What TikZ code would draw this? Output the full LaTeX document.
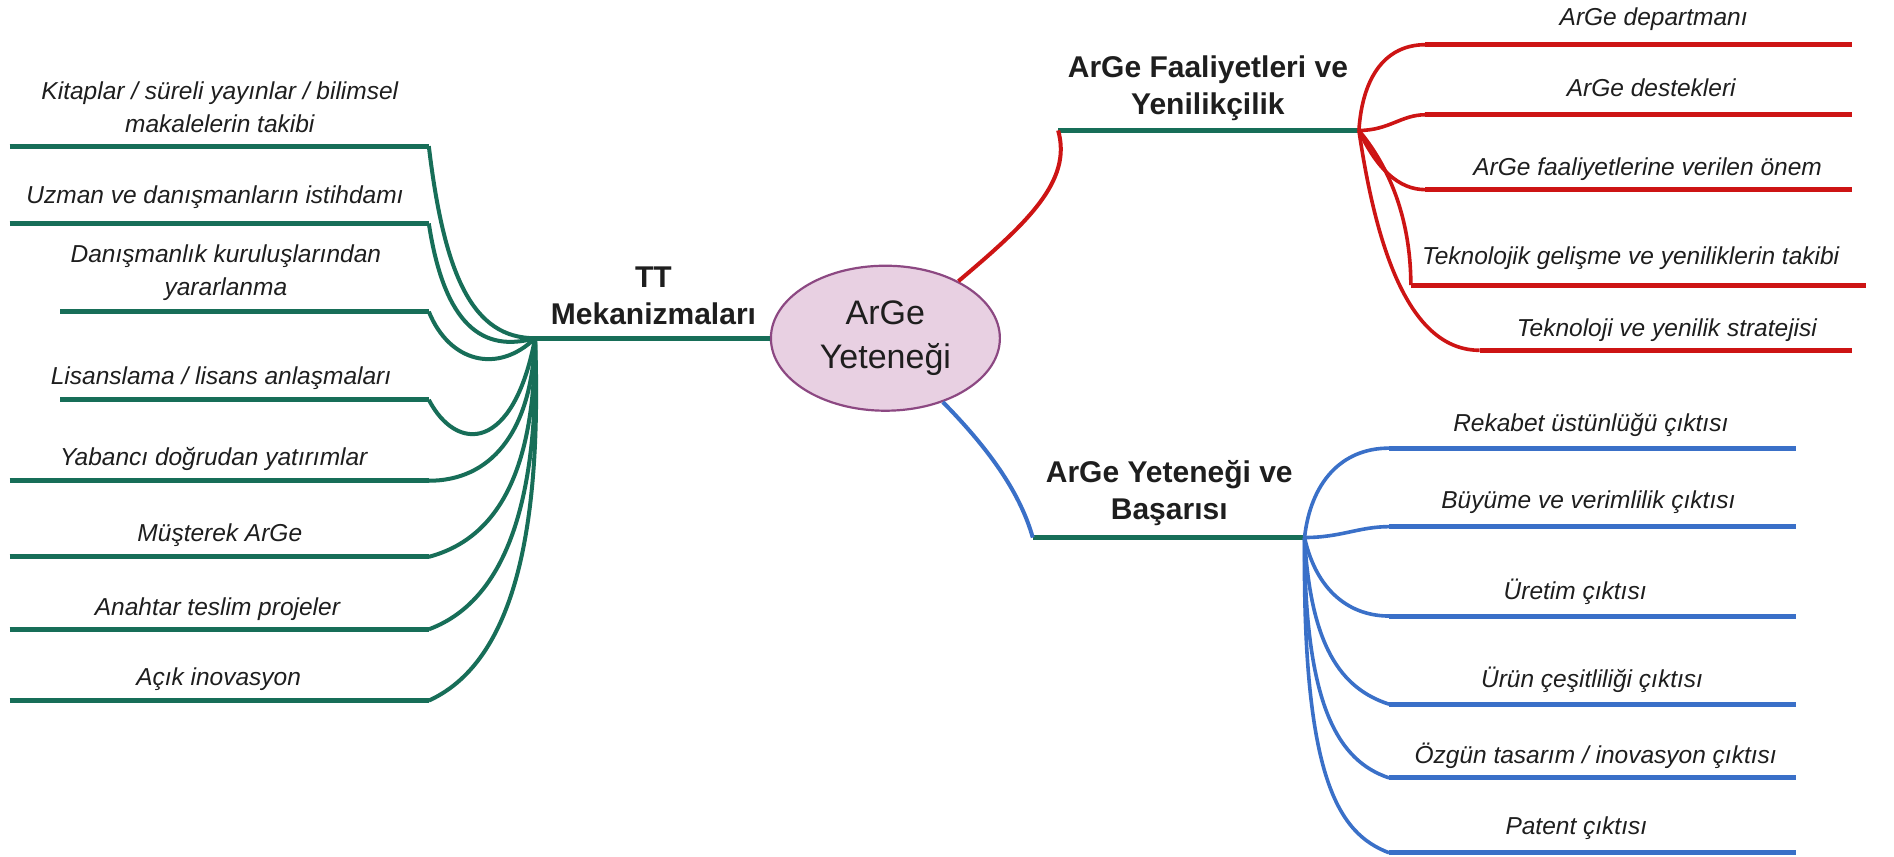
\documentclass[tikz,border=0pt]{standalone}
\usepackage{fontspec}
\setmainfont{Liberation Sans}
\usetikzlibrary{shapes.geometric}
\definecolor{tealc}{RGB}{23,110,88}
\definecolor{redc}{RGB}{205,20,20}
\definecolor{bluec}{RGB}{58,112,200}
\definecolor{ellfill}{RGB}{232,208,226}
\definecolor{elldraw}{RGB}{140,72,130}
\definecolor{txt}{RGB}{30,30,30}
\tikzset{
  leaf/.style={font=\fontsize{24.5}{33}\selectfont\itshape, text=txt, align=center, inner sep=0pt},
  title/.style={font=\fontsize{30}{37}\selectfont\bfseries, text=txt, align=center, inner sep=0pt},
  tline/.style={draw=tealc, line width=5pt},
  gline/.style={draw=tealc, line width=5pt},
  gcurve/.style={draw=tealc, line width=4pt},
  rline/.style={draw=redc, line width=5pt},
  rcurve/.style={draw=redc, line width=3.6pt},
  bline/.style={draw=bluec, line width=5pt},
  bcurve/.style={draw=bluec, line width=3.6pt},
}
\begin{document}
\begin{tikzpicture}[x=1.208pt, y=-1.208pt]
\useasboundingbox (0,0) rectangle (1568,709);
\fill[white] (0,0) rectangle (1568,709);

% central ellipse
\node[ellipse, draw=elldraw, line width=2.2pt, fill=ellfill, minimum width=229pt, minimum height=145pt,
  font=\fontsize{34}{44}\selectfont, text=txt, align=center, inner sep=0pt] (center) at (733,280) {ArGe\\Yeteneği};

% ---------- left branch ----------
\coordinate (hubL) at (443,280);
\draw[tline] (hubL) -- (center.west);
\node[title] (tt) at (541,245) {TT\\Mekanizmaları};

\coordinate (l1a) at (8,121);   \coordinate (l1b) at (355,121);
\coordinate (l2a) at (8,185);   \coordinate (l2b) at (355,185);
\coordinate (l3a) at (50,258);  \coordinate (l3b) at (355,258);
\coordinate (l4a) at (50,331);  \coordinate (l4b) at (355,331);
\coordinate (l5a) at (8,398);   \coordinate (l5b) at (355,398);
\coordinate (l6a) at (8,461);   \coordinate (l6b) at (355,461);
\coordinate (l7a) at (8,521);   \coordinate (l7b) at (355,521);
\coordinate (l8a) at (8,580);   \coordinate (l8b) at (355,580);
\foreach \i in {1,...,8} {\draw[gline] (l\i a) -- (l\i b);}

\draw[gcurve] (l1b) .. controls (368,230) and (392,280) .. (hubL);
\draw[gcurve] (l2b) .. controls (368,270) and (400,292) .. (hubL);
\draw[gcurve] (l3b) .. controls (372,300) and (412,310) .. (hubL);
\draw[gcurve] (l4b) .. controls (378,375) and (425,375) .. (hubL);
\draw[gcurve] (l5b) .. controls (405,398) and (440,360) .. (hubL);
\draw[gcurve] (l6b) .. controls (415,445) and (443,385) .. (hubL);
\draw[gcurve] (l7b) .. controls (425,495) and (446,400) .. (hubL);
\draw[gcurve] (l8b) .. controls (432,545) and (448,420) .. (hubL);

\node[leaf] (t1) at (182,88.5) {Kitaplar / süreli yayınlar / bilimsel\\makalelerin takibi};
\node[leaf] (t2) at (178,163) {Uzman ve danışmanların istihdamı};
\node[leaf] (t3) at (187,225.5) {Danışmanlık kuruluşlarından\\yararlanma};
\node[leaf] (t4) at (183,313) {Lisanslama / lisans anlaşmaları};
\node[leaf] (t5) at (177,380) {Yabancı doğrudan yatırımlar};
\node[leaf] (t6) at (182,443) {Müşterek ArGe};
\node[leaf] (t7) at (180,504) {Anahtar teslim projeler};
\node[leaf] (t8) at (181,562) {Açık inovasyon};

% ---------- top-right branch ----------
\coordinate (rA) at (876,108);
\coordinate (hubR) at (1125,108);
\draw[tline] (rA) -- (hubR);
\draw[redc, line width=4pt] (center.38) .. controls (850,185) and (888,150) .. (rA);
\node[title] (fa) at (1000,73) {ArGe Faaliyetleri ve\\Yenilikçilik};

\coordinate (r1a) at (1180,37);  \coordinate (r1b) at (1533,37);
\coordinate (r2a) at (1180,95);  \coordinate (r2b) at (1533,95);
\coordinate (r3a) at (1180,157); \coordinate (r3b) at (1533,157);
\coordinate (r4a) at (1168,236); \coordinate (r4b) at (1545,236);
\coordinate (r5a) at (1225,290); \coordinate (r5b) at (1533,290);
\foreach \i in {1,...,5} {\draw[rline] (r\i a) -- (r\i b);}

\draw[rcurve] (hubR) .. controls (1128,62) and (1148,37) .. (r1a);
\draw[rcurve] (hubR) .. controls (1150,108) and (1160,95) .. (r2a);
\draw[rcurve] (hubR) .. controls (1140,140) and (1158,157) .. (r3a);
\draw[rcurve] (hubR) .. controls (1160,150) and (1168,200) .. (r4a);
\draw[rcurve] (hubR) .. controls (1140,210) and (1168,290) .. (r5a);

\node[leaf] (u1) at (1369,16) {ArGe departmanı};
\node[leaf] (u2) at (1367,73) {ArGe destekleri};
\node[leaf] (u3) at (1364,140) {ArGe faaliyetlerine verilen önem};
\node[leaf] (u4) at (1350,214) {Teknolojik gelişme ve yeniliklerin takibi};
\node[leaf] (u5) at (1380,273) {Teknoloji ve yenilik stratejisi};

% ---------- bottom-right branch ----------
\coordinate (bA) at (855,445);
\coordinate (hubB) at (1080,445);
\draw[tline] (bA) -- (hubB);
\draw[bluec, line width=4pt] (center.-48) .. controls (822,375) and (845,410) .. (bA);
\node[title] (ba) at (968,408) {ArGe Yeteneği ve\\Başarısı};

\coordinate (b1a) at (1150,371); \coordinate (b1b) at (1487,371);
\coordinate (b2a) at (1150,436); \coordinate (b2b) at (1487,436);
\coordinate (b3a) at (1150,510); \coordinate (b3b) at (1487,510);
\coordinate (b4a) at (1150,583); \coordinate (b4b) at (1487,583);
\coordinate (b5a) at (1150,644); \coordinate (b5b) at (1487,644);
\coordinate (b6a) at (1150,706); \coordinate (b6b) at (1487,706);
\foreach \i in {1,...,6} {\draw[bline] (b\i a) -- (b\i b);}

\draw[bcurve] (hubB) .. controls (1085,400) and (1110,371) .. (b1a);
\draw[bcurve] (hubB) .. controls (1110,445) and (1125,436) .. (b2a);
\draw[bcurve] (hubB) .. controls (1090,490) and (1118,510) .. (b3a);
\draw[bcurve] (hubB) .. controls (1085,535) and (1110,570) .. (b4a);
\draw[bcurve] (hubB) .. controls (1080,585) and (1108,630) .. (b5a);
\draw[bcurve] (hubB) .. controls (1078,645) and (1108,690) .. (b6a);

\node[leaf] (v1) at (1317,352) {Rekabet üstünlüğü çıktısı};
\node[leaf] (v2) at (1315,416) {Büyüme ve verimlilik çıktısı};
\node[leaf] (v3) at (1304,490) {Üretim çıktısı};
\node[leaf] (v4) at (1318,563) {Ürün çeşitliliği çıktısı};
\node[leaf] (v5) at (1321,626) {Özgün tasarım / inovasyon çıktısı};
\node[leaf] (v6) at (1305,686) {Patent çıktısı};
\end{tikzpicture}
\end{document}
